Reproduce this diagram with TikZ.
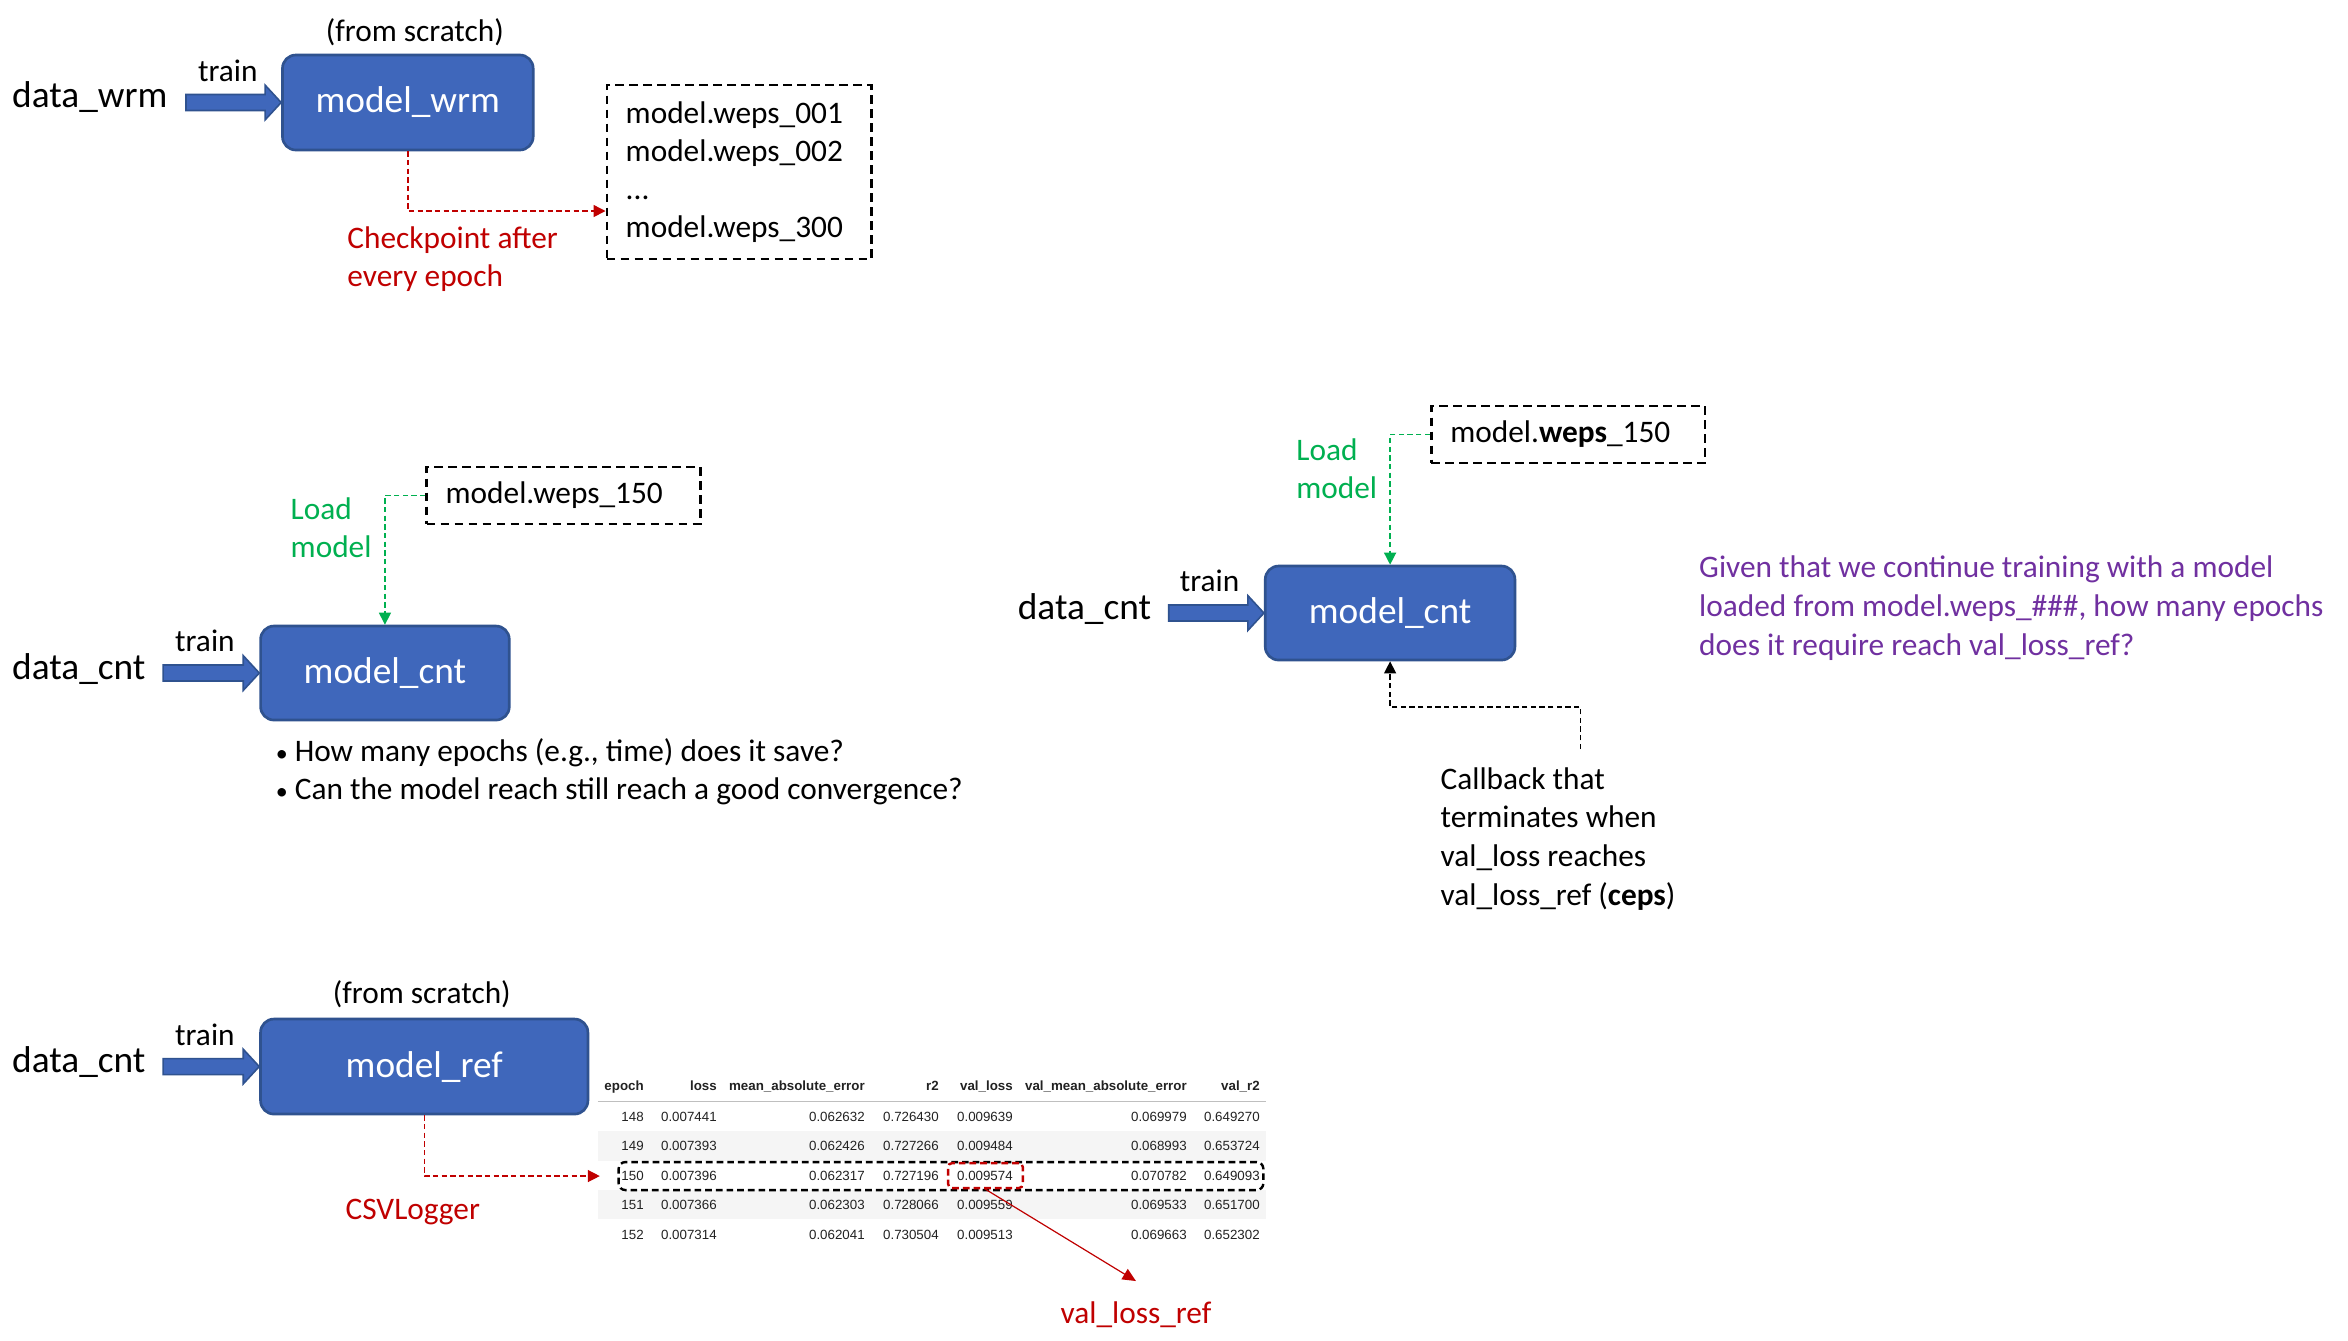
\documentclass[tikz,border=0pt]{standalone}
\usepackage{fontspec}
\setmainfont{Carlito}
\newfontfamily\tabfont{Liberation Sans}
\usetikzlibrary{arrows.meta,calc}
\definecolor{boxblue}{RGB}{63,103,187}
\definecolor{boxborder}{RGB}{47,82,143}
\definecolor{myred}{RGB}{192,0,0}
\definecolor{mygreen}{RGB}{0,176,80}
\definecolor{mypurple}{RGB}{112,48,160}
\definecolor{rowgrey}{RGB}{245,245,245}
\definecolor{tabtext}{RGB}{34,34,34}
\newcommand\blockarrow[2]{%
  \filldraw[barrow] let \p1=(#1), \p2=(#2) in
    (\x1,\y2-6pt) -- (\x2-12pt,\y2-6pt) -- (\x2-12pt,\y2-13pt) -- (\p2)
    -- (\x2-12pt,\y2+13pt) -- (\x2-12pt,\y2+6pt) -- (\x1,\y2+6pt) -- cycle;}
\begin{document}
\begin{tikzpicture}[x=0.746pt,y=-0.75pt,
  txt/.style={font=\fontsize{23.5pt}{29pt}\selectfont, inner sep=0pt, anchor=base west},
  bigt/.style={font=\fontsize{28pt}{34pt}\selectfont, inner sep=0pt},
  model/.style={draw=boxborder, line width=2pt, fill=boxblue, rounded corners=10pt, text=white, bigt},
  wbox/.style={draw, line width=1.8pt, dash pattern=on 6.5pt off 4pt, inner xsep=14.25pt, inner ysep=0pt,
    font=\fontsize{23.5pt}{28.5pt}\selectfont, align=left},
  barrow/.style={fill=boxblue, draw=boxborder, line width=1.2pt},
  conn/.style={line width=1pt, dash pattern=on 4pt off 2.5pt},
  redc/.style={conn, draw=myred, -{Triangle[length=9pt,width=9pt]}},
  greenc/.style={conn, draw=mygreen, -{Triangle[length=9pt,width=9pt]}},
  blackc/.style={conn, draw=black, -{Triangle[length=9pt,width=9pt]}},
  tabh/.style={font=\tabfont\bfseries\fontsize{10pt}{12pt}\selectfont, text=tabtext, inner sep=0pt, anchor=base east},
  tabd/.style={font=\tabfont\fontsize{10pt}{12pt}\selectfont, text=tabtext, inner sep=0pt, anchor=base east}
]
\useasboundingbox[fill=white] (0,0) rectangle (2360.5,1340);

% ---------- top: model_wrm ----------
\node[txt, anchor=base] (fs1) at (417,41) {(from scratch)};
\node[bigt, anchor=base west] (dw) at (12,107) {data\_wrm};
\node[model, minimum width=188pt, minimum height=71.25pt] (mw) at (410,102.5) {model\_wrm};
\node[txt, anchor=base] (tr1) at (229,81) {train};
\coordinate (s1) at (187,102.5);
\blockarrow{s1}{mw.west}
\node[wbox, text width=170pt, minimum height=130.5pt] (lst) at (743,172)
  {model.weps\_001\\model.weps\_002\\...\\model.weps\_300};
\coordinate (c1) at (0,211);
\draw[redc] (mw.south) |- (lst.west |- c1);
\node[txt, text=myred, align=left] (ck) at (349,286.7) {Checkpoint after\\every epoch};

% ---------- middle left: model_cnt ----------
\node[bigt, anchor=base west] (dc1) at (12,679) {data\_cnt};
\node[model, minimum width=186.5pt, minimum height=70.5pt] (mc1) at (387,673) {model\_cnt};
\node[txt, anchor=base] (tr2) at (206,651) {train};
\coordinate (s2) at (164,673);
\blockarrow{s2}{mc1.west}
\node[wbox, text width=176.75pt, minimum height=42.75pt] (w1) at (566.5,495.5) {model.weps\_150};
\draw[greenc] (w1.west) -| (mc1.north);
\node[txt, text=mygreen, align=left] (lm1) at (292,557.7) {Load\\model};
\node[txt, align=left] (bl) at (277,799)
  {\makebox[14.25pt][l]{\fontsize{18pt}{20pt}\selectfont •}How many epochs (e.g., time) does it save?\\[-1pt]
   \makebox[14.25pt][l]{\fontsize{18pt}{20pt}\selectfont •}Can the model reach still reach a good convergence?};

% ---------- middle right: model_cnt ----------
\node[bigt, anchor=base west] (dc2) at (1023,619) {data\_cnt};
\node[model, minimum width=187.25pt, minimum height=70.5pt] (mc2) at (1397.5,613) {model\_cnt};
\node[txt, anchor=base] (tr3) at (1216,591) {train};
\coordinate (s3) at (1175,613);
\blockarrow{s3}{mc2.west}
\node[wbox, text width=176.75pt, minimum height=42.75pt] (w2) at (1576.5,434.5) {model.\textbf{weps}\_150};
\draw[greenc] (w2.west) -| (mc2.north);
\node[txt, text=mygreen, align=left] (lm2) at (1303,498.7) {Load\\model};
\coordinate (cb) at (1589,749);
\draw[blackc] (cb) -- ++(0,-42) -| (mc2.south);
\node[txt, align=left] (cbt) at (1448,905)
  {Callback that\\terminates when\\val\_loss reaches\\val\_loss\_ref (\textbf{ceps})};
\node[txt, text=mypurple, align=left] (q) at (1708,655)
  {Given that we continue training with a model\\loaded from model.weps\_\#\#\#, how many epochs\\does it require reach val\_loss\_ref?};

% ---------- bottom: model_ref ----------
\node[txt, anchor=base] (fs2) at (424,1003) {(from scratch)};
\node[bigt, anchor=base west] (dc3) at (12,1072) {data\_cnt};
\node[model, minimum width=245.5pt, minimum height=71.25pt] (mr) at (426.5,1066.5) {model\_ref};
\node[txt, anchor=base] (tr4) at (206,1045) {train};
\coordinate (s4) at (164,1066.5);
\blockarrow{s4}{mr.west}
\coordinate (tin) at (603,1176);
\draw[redc] (mr.south) |- (tin);
\node[txt, text=myred, anchor=base] (csv) at (415,1219) {CSVLogger};

% table
\fill[rowgrey] (601,1131) rectangle (1272.7,1161);
\fill[rowgrey] (601,1190) rectangle (1272.7,1219);
\draw[black!25, line width=0.8pt] (601,1101) -- (1272.7,1101);
\foreach \hd/\x [count=\i] in {epoch/647.4, loss/720.8, mean\_absolute\_error/869.6, r2/944,
    val\_loss/1018.4, val\_mean\_absolute\_error/1193.3, val\_r2/1266.7}
  \node[tabh] (h\i) at (\x,1090) {\hd};
\foreach \ra/\rb/\rc/\rd/\re/\rf/\rg [count=\j] in {
    148/0.007441/0.062632/0.726430/0.009639/0.069979/0.649270,
    149/0.007393/0.062426/0.727266/0.009484/0.068993/0.653724,
    150/0.007396/0.062317/0.727196/0.009574/0.070782/0.649093,
    151/0.007366/0.062303/0.728066/0.009559/0.069533/0.651700,
    152/0.007314/0.062041/0.730504/0.009513/0.069663/0.652302}{
  \pgfmathsetmacro\yy{1121+(\j-1)*29.5}
  \node[tabd] (t\j-1) at (647.4,\yy) {\ra};
  \node[tabd] (t\j-2) at (720.8,\yy) {\rb};
  \node[tabd] (t\j-3) at (869.6,\yy) {\rc};
  \node[tabd] (t\j-4) at (944,\yy) {\rd};
  \node[tabd] (t\j-5) at (1018.4,\yy) {\re};
  \node[tabd] (t\j-6) at (1193.3,\yy) {\rf};
  \node[tabd] (t\j-7) at (1266.7,\yy) {\rg};
}
\node[draw, line width=1.8pt, dash pattern=on 5pt off 3pt, rounded corners=5pt,
  minimum width=483.5pt, minimum height=21pt, inner sep=0pt] (row) at (946,1176) {};
\node[draw=myred, line width=1.8pt, dash pattern=on 5pt off 3pt, rounded corners=3pt,
  minimum width=56pt, minimum height=18.75pt, inner sep=0pt] (rbx) at (990.7,1175.5) {};
\node[txt, text=myred, anchor=base, inner xsep=0pt, inner ysep=15pt] (vlr) at (1142,1323) {val\_loss\_ref};
\draw[myred, line width=0.9pt, -{Triangle[length=10pt,width=9pt]}] (rbx.south) -- (vlr.north);
\end{tikzpicture}
\end{document}
